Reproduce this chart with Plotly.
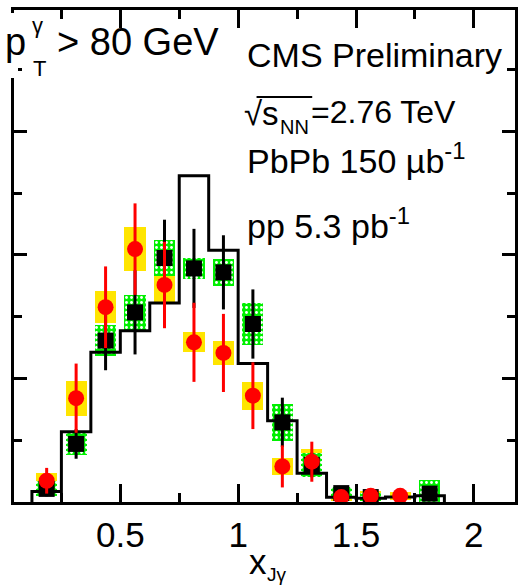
import plotly.graph_objects as go

# x_Jgamma binning (bin width 0.125)
bin_edges = [0.125, 0.25, 0.375, 0.5, 0.625, 0.75, 0.875, 1.0,
             1.125, 1.25, 1.375, 1.5, 1.625, 1.75, 1.875]
bin_centers = [0.1875, 0.3125, 0.4375, 0.5625, 0.6875, 0.8125, 0.9375,
               1.0625, 1.1875, 1.3125, 1.4375, 1.5625, 1.6875, 1.8125]

# reference histogram (black step line)
ref_hist = [0.042, 0.284, 0.606, 0.693, 0.805, 1.32, 1.018,
            0.56, 0.329, 0.116, 0.019, 0.015, 0.02, 0.025]

# pp data: black squares, stat errors, green systematic boxes
pp_val = [0.053, 0.235, 0.653, 0.767, 0.987, 0.945, 0.929,
          0.72, 0.322, 0.15, 0.036, 0.02, None, 0.034]
pp_stat = [0.03, 0.06, 0.12, 0.17, 0.155, 0.16, 0.15,
           0.14, 0.1, 0.05, 0.02, 0.015, None, 0.02]
pp_sys = [0.03, 0.043, 0.062, 0.07, 0.071, 0.044, 0.055,
          0.085, 0.074, 0.048, 0.025, 0.015, None, 0.055]

# PbPb data: red circles, stat errors, yellow systematic boxes
pbpb_val = [0.086, 0.42, 0.788, 1.023, 0.878, 0.646, 0.603,
            0.43, 0.144, 0.163, 0.02, 0.025, 0.025, None]
pbpb_stat = [0.052, 0.14, 0.165, 0.185, 0.175, 0.16, 0.158,
             0.135, 0.085, 0.081, 0.02, 0.015, 0.012, None]
pbpb_sys = [0.03, 0.071, 0.065, 0.09, 0.067, 0.04, 0.05,
            0.056, 0.034, 0.052, 0.015, 0.02, 0.015, None]

x_tick_vals = [0.5, 1.0, 1.5, 2.0]
x_tick_text = ["0.5", "1", "1.5", "2"]

W, H = 525, 587
L, R, T, B = 14, 7, 10, 85
PW, PH = W - L - R, H - T - B
FONT = "Liberation Sans, Arial, sans-serif"


def px(x):
    return (x - L) / PW


def py(y):
    return (H - B - y) / PH


def box_traces(vals, errs, color, pattern=None):
    xs, bases, heights = [], [], []
    for c, v, e in zip(bin_centers, vals, errs):
        if v is None:
            continue
        xs.append(c)
        bases.append(v - e)
        heights.append(2 * e)
    marker = dict(color=color, line=dict(width=0))
    if pattern:
        marker["pattern"] = pattern
    return go.Bar(x=xs, y=heights, base=bases, width=0.09, marker=marker,
                  showlegend=False, hoverinfo="skip")


def points(vals, errs):
    xs, ys, es = [], [], []
    for c, v, e in zip(bin_centers, vals, errs):
        if v is None:
            continue
        xs.append(c)
        ys.append(v)
        es.append(e)
    return xs, ys, es


fig = go.Figure()

# systematic uncertainty boxes
fig.add_trace(box_traces(pbpb_val, pbpb_sys, "#ffe500"))
fig.add_trace(box_traces(pp_val, pp_sys, "#00f000",
                         pattern=dict(shape=".", fgcolor="white",
                                      bgcolor="#00f000", size=5,
                                      solidity=0.25, fillmode="replace")))

# step histogram outline
hx = [bin_edges[0]] + bin_edges[:-1] + [bin_edges[-1]]
hy = [0] + ref_hist + [0]
fig.add_trace(go.Scatter(x=hx, y=hy, mode="lines",
                         line=dict(color="black", width=3, shape="hv"),
                         showlegend=False, hoverinfo="skip"))

# pp points
x1, y1, e1 = points(pp_val, pp_stat)
fig.add_trace(go.Scatter(x=x1, y=y1, mode="markers",
                         marker=dict(symbol="square", size=16, color="black"),
                         error_y=dict(type="data", array=e1, color="black",
                                      thickness=3, width=0),
                         cliponaxis=False, showlegend=False))

# PbPb points
x2, y2, e2 = points(pbpb_val, pbpb_stat)
fig.add_trace(go.Scatter(x=x2, y=y2, mode="markers",
                         marker=dict(symbol="circle", size=16, color="#ff0000"),
                         error_y=dict(type="data", array=e2, color="#ff0000",
                                      thickness=3, width=0),
                         cliponaxis=False, showlegend=False))

fig.update_layout(
    width=W, height=H,
    margin=dict(l=L, r=R, t=T, b=B, pad=0),
    paper_bgcolor="white", plot_bgcolor="white",
    barmode="overlay", bargap=0,
    font=dict(family=FONT, color="black"),
)

fig.update_xaxes(
    range=[(L - 2.4) / 237.1, (W - R - 2.4) / 237.1],
    showgrid=False, zeroline=False,
    showline=True, linecolor="black", linewidth=3, mirror="ticks",
    ticks="inside", ticklen=18, tickwidth=3, tickcolor="black",
    tickvals=x_tick_vals, ticktext=x_tick_text,
    tickfont=dict(size=35, family=FONT, color="black"),
    minor=dict(tickvals=[0.25, 0.75, 1.25, 1.75], ticks="inside",
               ticklen=9, tickwidth=2.5, tickcolor="black"),
)
fig.update_yaxes(
    range=[0, (H - B - T) / 247.2],
    showgrid=False, zeroline=False,
    showline=True, linecolor="black", linewidth=2.5, mirror="ticks",
    ticks="inside", ticklen=13, tickwidth=2.5, tickcolor="black",
    tickvals=[0, 0.5, 1.0, 1.5], showticklabels=False,
    minor=dict(tickvals=[0.25, 0.75, 1.25, 1.75], ticks="inside",
               ticklen=8, tickwidth=2.5, tickcolor="black"),
)

# text box behind the kinematic label hides the upper part of the left frame
fig.add_shape(type="rect", xref="paper", yref="paper",
              x0=px(9), x1=px(18), y0=py(78), y1=py(13),
              fillcolor="white", line=dict(width=0), layer="above")

# radical bar over s_NN
fig.add_shape(type="line", xref="paper", yref="paper",
              x0=px(258), x1=px(314), y0=py(97), y1=py(97),
              line=dict(color="black", width=2), layer="above")


def label(text, x, y, size, anchor="left"):
    fig.add_annotation(text=text, xref="paper", yref="paper",
                       x=px(x), y=py(y), xanchor=anchor, yanchor="middle",
                       showarrow=False,
                       font=dict(size=size, family=FONT, color="black"))


# kinematic selection
label("p", 3, 42, 38)
label("γ", 30, 25, 22)
label("T", 31, 69, 22)
label("> 80 GeV", 55, 42, 38)

# experiment / dataset labels
label("CMS Preliminary", 246, 55, 34)
label("√s", 243, 113, 33)
label("NN", 280, 127, 20)
label("=2.76 TeV", 311, 112, 32)
label("PbPb 150 µb<sup>-1</sup>", 246, 158, 34)
label("pp 5.3 pb<sup>-1</sup>", 246, 223, 34)

# x-axis title
label("x", 248, 561, 35)
label("Jγ", 266, 574, 19)

fig.write_html("out.html")
